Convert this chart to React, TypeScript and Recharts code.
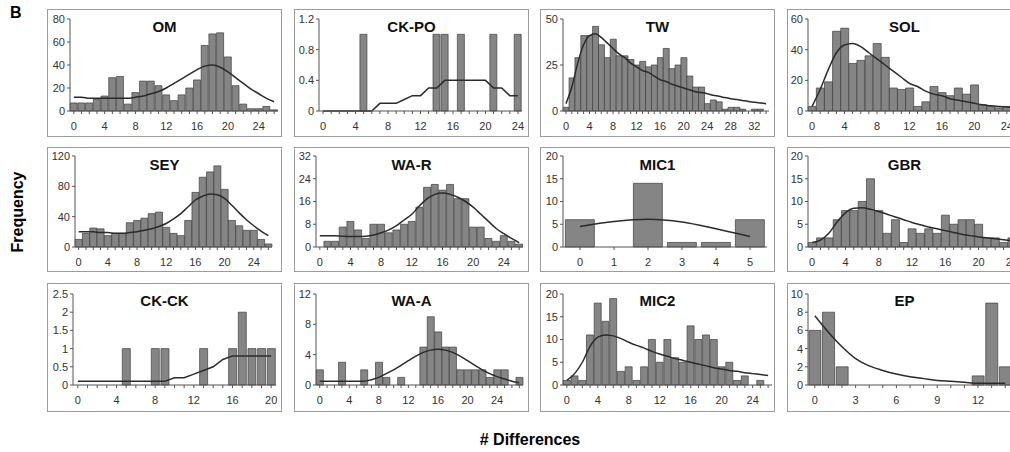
import React from "react";
import { Bar, ComposedChart, Line, XAxis, YAxis } from "recharts";

const FONT = '"Liberation Sans", Arial, sans-serif';

// category values (number of differences), shared by all panels
const diffs = [0, 1, 2, 3, 4, 5, 6, 7, 8, 9, 10, 11, 12, 13, 14, 15, 16, 17, 18, 19, 20, 21, 22, 23, 24, 25, 26, 27, 28, 29, 30, 31, 32, 33, 34];

const omCounts = [7, 7, 7, 10, 13, 29, 30, 6, 16, 26, 26, 22, 14, 9, 14, 20, 27, 57, 67, 68, 47, 22, 6, 2, 2, 4, 1];
const omFit = [12, 12, 11, 11, 11, 11, 11, 11, 12, 13, 15, 17, 20, 24, 28, 32, 36, 39, 40, 38, 34, 29, 24, 19, 15, 11, 8];

const ckpoCounts = [0, 0, 0, 0, 0, 1, 0, 0, 0, 0, 0, 0, 0, 0, 1, 1, 0, 1, 0, 0, 0, 1, 0, 0, 1];
const ckpoFit = [0, 0, 0, 0, 0, 0, 0, 0.1, 0.1, 0.1, 0.15, 0.2, 0.2, 0.3, 0.3, 0.4, 0.4, 0.4, 0.4, 0.4, 0.4, 0.3, 0.3, 0.2, 0.2];

const twCounts = [2, 18, 29, 41, 41, 46, 36, 29, 39, 30, 30, 28, 25, 27, 24, 25, 29, 34, 23, 25, 29, 19, 13, 13, 4, 6, 5, 1, 2, 2, 1, 0, 1, 1, 0];
const twFit = [4, 13, 26, 36, 41, 42, 40, 37, 34, 31, 29, 26, 24, 22, 21, 19, 17, 16, 14.5, 13.5, 12.5, 11.5, 10.5, 10, 9.4, 8.6, 8, 7.3, 6.7, 6.2, 5.7, 5.2, 4.8, 4.4, 4];

const solCounts = [3, 15, 19, 52, 54, 31, 33, 36, 44, 35, 15, 14, 15, 3, 6, 16, 12, 10, 15, 11, 17, 4, 3, 2, 3, 1];
const solFit = [3, 14, 27, 38, 43, 44, 42, 38, 34, 30, 26, 22, 18, 16, 13, 11, 10, 8, 7, 6, 5, 4, 3.5, 3, 2.6, 2.2];

const seyCounts = [10, 18, 25, 24, 15, 18, 18, 32, 35, 38, 44, 46, 26, 18, 15, 35, 72, 92, 99, 107, 76, 35, 28, 22, 22, 10, 4];
const seyFit = [20, 20, 20, 19, 19, 18, 18, 19, 20, 22, 24, 27, 31, 37, 44, 53, 62, 67, 70, 69, 64, 55, 45, 36, 28, 21, 15];

const warCounts = [0, 2, 2, 7, 9, 6, 3, 8, 8, 5, 6, 8, 9, 14, 21, 22, 20, 22, 17, 17, 7, 7, 3, 2, 4, 2, 1];
const warFit = [4, 4, 4, 3.8, 3.7, 3.7, 3.8, 4.2, 5, 6, 7.5, 9.5, 11.5, 14.5, 17, 18.5, 19, 18.5, 17.5, 16, 14, 11.5, 9, 6.5, 4.7, 3, 1.5];

const mic1Counts = [6, 0, 14, 1, 1, 6];
const mic1Fit = [4.5, 5.6, 6.1, 5.5, 4, 2.3];

const gbrCounts = [1, 2, 2, 6, 8, 8, 10, 15, 8, 3, 6, 1, 4, 3, 4, 3, 7, 5, 6, 6, 5, 2, 2, 1, 2];
const gbrFit = [1, 1.5, 3, 5.5, 7.5, 8.5, 8.6, 8.3, 7.8, 7.2, 6.6, 6, 5.4, 4.9, 4.4, 4, 3.6, 3.2, 2.8, 2.5, 2.2, 2, 1.8, 1.6, 1.4];

const ckckCounts = [0, 0, 0, 0, 0, 1, 0, 0, 1, 1, 0, 0, 0, 1, 0, 0, 1, 2, 1, 1, 1];
const ckckFit = [0.1, 0.1, 0.1, 0.1, 0.1, 0.1, 0.1, 0.1, 0.1, 0.1, 0.2, 0.2, 0.3, 0.4, 0.5, 0.7, 0.8, 0.8, 0.8, 0.8, 0.8];

const waaCounts = [2, 0, 0, 3, 0, 0, 2, 0, 3, 1, 0, 1, 0, 0, 5, 9, 7, 5, 5, 2, 2, 2, 2, 1, 2, 2, 0, 1];
const waaFit = [0.5, 0.5, 0.5, 0.5, 0.5, 0.5, 0.5, 0.7, 1, 1.5, 2, 2.6, 3.2, 3.8, 4.3, 4.6, 4.7, 4.6, 4.3, 3.8, 3.2, 2.6, 2, 1.5, 1.1, 0.8, 0.5, 0.3];

const mic2Counts = [1, 2, 1, 11, 18, 14, 19, 3, 4, 1, 4, 10, 5, 10, 6, 5, 13, 10, 11, 10, 4, 5, 1, 2, 0, 1, 0];
const mic2Fit = [1, 2.5, 5, 8.5, 10.5, 11, 10.8, 10.2, 9.4, 8.7, 8.1, 7.4, 6.8, 6.3, 5.8, 5.4, 5, 4.6, 4.2, 3.8, 3.5, 3.2, 3, 2.7, 2.5, 2.3, 2.1];

const epCounts = [6, 8, 2, 0, 0, 0, 0, 0, 0, 0, 0, 0, 1, 9, 2];
const epFit = [7.6, 5.8, 4.2, 2.9, 2.1, 1.6, 1.2, 0.9, 0.7, 0.5, 0.4, 0.3, 0.2, 0.2, 0.2];

// tick labels
const xBy4to24 = [0, 4, 8, 12, 16, 20, 24];
const xBy4to32 = [0, 4, 8, 12, 16, 20, 24, 28, 32];
const xBy4to20 = [0, 4, 8, 12, 16, 20];
const xMic1 = [0, 1, 2, 3, 4, 5];
const xEp = [0, 3, 6, 9, 12];

const yOm = [0, 20, 40, 60, 80];
const yCkpo = [0, 0.4, 0.8, 1.2];
const yTw = [0, 25, 50];
const ySol = [0, 20, 40, 60];
const ySey = [0, 40, 80, 120];
const yWar = [0, 8, 16, 24, 32];
const yBy5to20 = [0, 5, 10, 15, 20];
const yCkck = [0, 0.5, 1, 1.5, 2, 2.5];
const yWaa = [0, 4, 8, 12];
const yEp = [0, 2, 4, 6, 8, 10];

const COLS = [47, 294, 540, 787];
const PANEL_W = 235;
const ROWS = [
  { top: 9, h: 128, yTop: 19, yBot: 111 },
  { top: 147, h: 125, yTop: 156, yBot: 247 },
  { top: 283, h: 129, yTop: 294, yBot: 385 },
];

interface PanelSpec {
  title: string;
  counts: number[];
  fit: number[];
  yTicks: number[];
  xLabels: number[];
  col: number;
  row: number;
  axisX: number;
  plotRight: number;
  gap: string;
  curve: "linear" | "monotone";
}

const panels: PanelSpec[] = [
  { title: "OM", counts: omCounts, fit: omFit, yTicks: yOm, xLabels: xBy4to24, col: 0, row: 0, axisX: 70, plotRight: 278, gap: "3%", curve: "monotone" },
  { title: "CK-PO", counts: ckpoCounts, fit: ckpoFit, yTicks: yCkpo, xLabels: xBy4to24, col: 1, row: 0, axisX: 319, plotRight: 522, gap: "4%", curve: "linear" },
  { title: "TW", counts: twCounts, fit: twFit, yTicks: yTw, xLabels: xBy4to32, col: 2, row: 0, axisX: 563, plotRight: 769, gap: "3%", curve: "monotone" },
  { title: "SOL", counts: solCounts, fit: solFit, yTicks: ySol, xLabels: xBy4to24, col: 3, row: 0, axisX: 808, plotRight: 1019, gap: "3%", curve: "monotone" },
  { title: "SEY", counts: seyCounts, fit: seyFit, yTicks: ySey, xLabels: xBy4to24, col: 0, row: 1, axisX: 75, plotRight: 272, gap: "3%", curve: "monotone" },
  { title: "WA-R", counts: warCounts, fit: warFit, yTicks: yWar, xLabels: xBy4to24, col: 1, row: 1, axisX: 316, plotRight: 523, gap: "3%", curve: "monotone" },
  { title: "MIC1", counts: mic1Counts, fit: mic1Fit, yTicks: yBy5to20, xLabels: xMic1, col: 2, row: 1, axisX: 563, plotRight: 767, gap: "7%", curve: "monotone" },
  { title: "GBR", counts: gbrCounts, fit: gbrFit, yTicks: yBy5to20, xLabels: xBy4to24, col: 3, row: 1, axisX: 808, plotRight: 1016, gap: "3%", curve: "monotone" },
  { title: "CK-CK", counts: ckckCounts, fit: ckckFit, yTicks: yCkck, xLabels: xBy4to20, col: 0, row: 2, axisX: 73, plotRight: 276, gap: "10%", curve: "linear" },
  { title: "WA-A", counts: waaCounts, fit: waaFit, yTicks: yWaa, xLabels: xBy4to24, col: 1, row: 2, axisX: 316, plotRight: 523, gap: "5%", curve: "monotone" },
  { title: "MIC2", counts: mic2Counts, fit: mic2Fit, yTicks: yBy5to20, xLabels: xBy4to24, col: 2, row: 2, axisX: 563, plotRight: 772, gap: "3%", curve: "monotone" },
  { title: "EP", counts: epCounts, fit: epFit, yTicks: yEp, xLabels: xEp, col: 3, row: 2, axisX: 808, plotRight: 1012, gap: "7%", curve: "monotone" },
];

const AXIS = "#555";

const Panel: React.FC<{ spec: PanelSpec }> = ({ spec }) => {
  const left = COLS[spec.col];
  const r = ROWS[spec.row];
  const innerLeft = left + 1;
  const innerTop = r.top + 1;
  const w = PANEL_W - 2;
  const h = r.h - 2;
  const data = spec.counts.map((c, i) => ({ x: diffs[i], count: c, fit: spec.fit[i] }));
  const yMax = spec.yTicks[spec.yTicks.length - 1];

  const renderTick = (props: any) => {
    const { x, y, payload } = props;
    if (!spec.xLabels.includes(payload.value)) return <g />;
    return (
      <text x={x} y={y} dy="0.71em" textAnchor="middle" fontSize={11} fill="#333" fontFamily={FONT}>
        {payload.value}
      </text>
    );
  };

  return (
    <div
      style={{
        position: "absolute",
        left,
        top: r.top,
        width: w,
        height: h,
        border: "1px solid #9c9c9c",
      }}
    >
      <ComposedChart
        width={w}
        height={h}
        data={data}
        barCategoryGap={spec.gap}
        margin={{ top: r.yTop - innerTop, right: innerLeft + w - spec.plotRight, bottom: 0, left: 0 }}
      >
        <XAxis
          dataKey="x"
          interval={0}
          height={innerTop + h - r.yBot}
          tickSize={3}
          tickMargin={8}
          tick={renderTick}
          axisLine={{ stroke: AXIS }}
          tickLine={{ stroke: AXIS }}
        />
        <YAxis
          width={spec.axisX - innerLeft}
          domain={[0, yMax]}
          ticks={spec.yTicks}
          interval={0}
          tickSize={3}
          tickMargin={2}
          tick={{ fontSize: 11, fill: "#333", fontFamily: FONT }}
          axisLine={{ stroke: AXIS }}
          tickLine={{ stroke: AXIS }}
        />
        <Bar dataKey="count" fill="#858585" stroke="#3f3f3f" strokeWidth={0.7} isAnimationActive={false} />
        <Line
          type={spec.curve}
          dataKey="fit"
          stroke="#2b2b2b"
          strokeWidth={1.5}
          dot={false}
          isAnimationActive={false}
        />
      </ComposedChart>
      <div
        style={{
          position: "absolute",
          left: 0,
          right: 0,
          top: 9,
          textAlign: "center",
          fontSize: 15,
          lineHeight: "15px",
          fontWeight: "bold",
          color: "#111",
        }}
      >
        {spec.title}
      </div>
    </div>
  );
};

export default function App() {
  return (
    <div
      style={{
        position: "absolute",
        left: 0,
        top: 0,
        width: 1010,
        height: 452,
        overflow: "hidden",
        background: "#fff",
        fontFamily: FONT,
      }}
    >
      <div style={{ position: "absolute", left: 10, top: 4, fontSize: 16, fontWeight: "bold" }}>B</div>
      <div
        style={{
          position: "absolute",
          left: 18,
          top: 212,
          transform: "translate(-50%, -50%) rotate(-90deg)",
          fontSize: 16,
          fontWeight: "bold",
          whiteSpace: "nowrap",
        }}
      >
        Frequency
      </div>
      <div
        style={{
          position: "absolute",
          left: 530,
          top: 440,
          transform: "translate(-50%, -50%)",
          fontSize: 16,
          fontWeight: "bold",
          whiteSpace: "nowrap",
        }}
      >
        # Differences
      </div>
      {panels.map((p) => (
        <Panel key={p.title} spec={p} />
      ))}
    </div>
  );
}
